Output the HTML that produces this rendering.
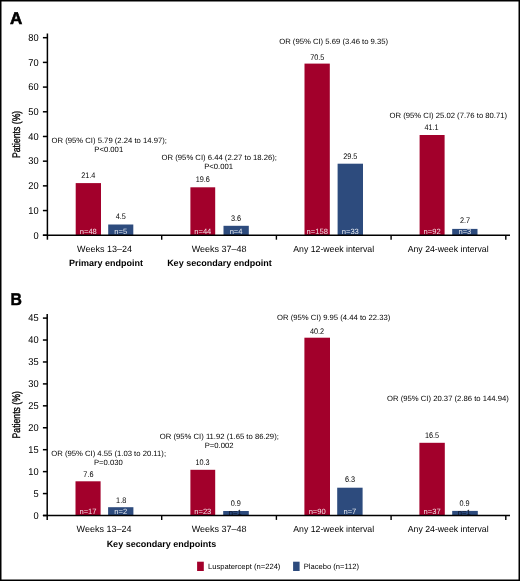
<!DOCTYPE html>
<html><head><meta charset="utf-8"><style>
html,body{margin:0;padding:0;background:#fff;}
svg{display:block;will-change:transform;text-rendering:geometricPrecision;}
text{font-family:"Liberation Sans", sans-serif;}
</style></head><body>
<svg width="520" height="581" viewBox="0 0 520 581">
<rect width="520" height="581" fill="#fff"/>
<text x="10.00" y="24.30" font-size="17" font-weight="700" fill="#000" text-anchor="start" stroke="#000" stroke-width="0.6">A</text>
<line x1="47.40" y1="33.50" x2="47.40" y2="239.70" stroke="#000" stroke-width="1.5"/>
<line x1="42.90" y1="235.25" x2="47.40" y2="235.25" stroke="#000" stroke-width="1.5"/>
<text class="t" transform="translate(38.6,238.50) scale(1,1.06)" font-size="9.3" fill="#000" text-anchor="end">0</text>
<line x1="42.90" y1="210.56" x2="47.40" y2="210.56" stroke="#000" stroke-width="1.5"/>
<text class="t" transform="translate(38.6,213.81) scale(1,1.06)" font-size="9.3" fill="#000" text-anchor="end">10</text>
<line x1="42.90" y1="185.86" x2="47.40" y2="185.86" stroke="#000" stroke-width="1.5"/>
<text class="t" transform="translate(38.6,189.11) scale(1,1.06)" font-size="9.3" fill="#000" text-anchor="end">20</text>
<line x1="42.90" y1="161.17" x2="47.40" y2="161.17" stroke="#000" stroke-width="1.5"/>
<text class="t" transform="translate(38.6,164.42) scale(1,1.06)" font-size="9.3" fill="#000" text-anchor="end">30</text>
<line x1="42.90" y1="136.47" x2="47.40" y2="136.47" stroke="#000" stroke-width="1.5"/>
<text class="t" transform="translate(38.6,139.72) scale(1,1.06)" font-size="9.3" fill="#000" text-anchor="end">40</text>
<line x1="42.90" y1="111.78" x2="47.40" y2="111.78" stroke="#000" stroke-width="1.5"/>
<text class="t" transform="translate(38.6,115.03) scale(1,1.06)" font-size="9.3" fill="#000" text-anchor="end">50</text>
<line x1="42.90" y1="87.09" x2="47.40" y2="87.09" stroke="#000" stroke-width="1.5"/>
<text class="t" transform="translate(38.6,90.34) scale(1,1.06)" font-size="9.3" fill="#000" text-anchor="end">60</text>
<line x1="42.90" y1="62.39" x2="47.40" y2="62.39" stroke="#000" stroke-width="1.5"/>
<text class="t" transform="translate(38.6,65.64) scale(1,1.06)" font-size="9.3" fill="#000" text-anchor="end">70</text>
<line x1="42.90" y1="37.70" x2="47.40" y2="37.70" stroke="#000" stroke-width="1.5"/>
<text class="t" transform="translate(38.6,40.95) scale(1,1.06)" font-size="9.3" fill="#000" text-anchor="end">80</text>
<rect x="75.70" y="183.10" width="25.30" height="51.90" fill="#a2002b"/>
<rect x="108.20" y="224.50" width="25.10" height="10.50" fill="#2d4b7d"/>
<rect x="190.40" y="187.30" width="24.80" height="47.70" fill="#a2002b"/>
<rect x="223.50" y="225.80" width="25.30" height="9.20" fill="#2d4b7d"/>
<rect x="304.50" y="63.60" width="25.30" height="171.40" fill="#a2002b"/>
<rect x="337.60" y="163.70" width="25.40" height="71.30" fill="#2d4b7d"/>
<rect x="419.60" y="135.00" width="25.00" height="100.00" fill="#a2002b"/>
<rect x="452.20" y="228.90" width="25.30" height="6.10" fill="#2d4b7d"/>
<text x="88.30" y="234.10" font-size="7.6" font-weight="400" fill="#fff" text-anchor="middle" fill-opacity="0.88">n=48</text>
<text x="120.80" y="234.10" font-size="7.6" font-weight="400" fill="#fff" text-anchor="middle" fill-opacity="0.88">n=5</text>
<text x="202.80" y="234.10" font-size="7.6" font-weight="400" fill="#fff" text-anchor="middle" fill-opacity="0.88">n=44</text>
<text x="236.10" y="234.10" font-size="7.6" font-weight="400" fill="#fff" text-anchor="middle" fill-opacity="0.88">n=4</text>
<text x="317.20" y="234.10" font-size="7.6" font-weight="400" fill="#fff" text-anchor="middle" fill-opacity="0.88">n=158</text>
<text x="350.30" y="234.10" font-size="7.6" font-weight="400" fill="#fff" text-anchor="middle" fill-opacity="0.88">n=33</text>
<text x="432.10" y="234.10" font-size="7.6" font-weight="400" fill="#fff" text-anchor="middle" fill-opacity="0.88">n=92</text>
<text x="464.90" y="234.10" font-size="7.6" font-weight="400" fill="#fff" text-anchor="middle" fill-opacity="0.88">n=3</text>
<line x1="42.90" y1="235.30" x2="510.00" y2="235.30" stroke="#000" stroke-width="1.5"/>
<line x1="161.70" y1="235.30" x2="161.70" y2="239.70" stroke="#000" stroke-width="1.4"/>
<line x1="276.40" y1="235.30" x2="276.40" y2="239.70" stroke="#000" stroke-width="1.4"/>
<line x1="391.10" y1="235.30" x2="391.10" y2="239.70" stroke="#000" stroke-width="1.4"/>
<line x1="505.80" y1="235.30" x2="505.80" y2="239.70" stroke="#000" stroke-width="1.4"/>
<text class="t" x="109.25" y="143.00" font-size="7.7" font-weight="400" fill="#000" text-anchor="middle">OR (95% CI) 5.79 (2.24 to 14.97);</text>
<text class="t" x="108.75" y="152.40" font-size="7.7" font-weight="400" fill="#000" text-anchor="middle">P&lt;0.001</text>
<text class="t" x="219.30" y="159.90" font-size="7.7" font-weight="400" fill="#000" text-anchor="middle">OR (95% CI) 6.44 (2.27 to 18.26);</text>
<text class="t" x="218.60" y="168.80" font-size="7.7" font-weight="400" fill="#000" text-anchor="middle">P&lt;0.001</text>
<text class="t" x="333.65" y="43.60" font-size="7.7" font-weight="400" fill="#000" text-anchor="middle">OR (95% CI) 5.69 (3.46 to 9.35)</text>
<text class="t" x="448.35" y="117.60" font-size="7.7" font-weight="400" fill="#000" text-anchor="middle">OR (95% CI) 25.02 (7.76 to 80.71)</text>
<text class="t" transform="translate(88.30,178.20) scale(1,1.12)" font-size="7.3" fill="#000" text-anchor="middle">21.4</text>
<text class="t" transform="translate(120.80,219.00) scale(1,1.12)" font-size="7.3" fill="#000" text-anchor="middle">4.5</text>
<text class="t" transform="translate(202.80,182.30) scale(1,1.12)" font-size="7.3" fill="#000" text-anchor="middle">19.6</text>
<text class="t" transform="translate(236.10,221.40) scale(1,1.12)" font-size="7.3" fill="#000" text-anchor="middle">3.6</text>
<text class="t" transform="translate(317.30,60.00) scale(1,1.12)" font-size="7.3" fill="#000" text-anchor="middle">70.5</text>
<text class="t" transform="translate(350.30,159.40) scale(1,1.12)" font-size="7.3" fill="#000" text-anchor="middle">29.5</text>
<text class="t" transform="translate(431.50,130.00) scale(1,1.12)" font-size="7.3" fill="#000" text-anchor="middle">41.1</text>
<text class="t" transform="translate(465.10,223.40) scale(1,1.12)" font-size="7.3" fill="#000" text-anchor="middle">2.7</text>
<text class="t" x="104.50" y="251.90" font-size="9.0" font-weight="400" fill="#000" text-anchor="middle">Weeks 13–24</text>
<text class="t" x="219.20" y="251.90" font-size="9.0" font-weight="400" fill="#000" text-anchor="middle">Weeks 37–48</text>
<text class="t" x="333.70" y="251.90" font-size="8.8" font-weight="400" fill="#000" text-anchor="middle" textLength="80.90" lengthAdjust="spacingAndGlyphs">Any 12-week interval</text>
<text class="t" x="448.15" y="251.90" font-size="8.8" font-weight="400" fill="#000" text-anchor="middle" textLength="80.90" lengthAdjust="spacingAndGlyphs">Any 24-week interval</text>
<text x="106.00" y="265.80" font-size="9.0" font-weight="700" fill="#000" text-anchor="middle">Primary endpoint</text>
<text x="219.40" y="265.80" font-size="9.0" font-weight="700" fill="#000" text-anchor="middle">Key secondary endpoint</text>
<text transform="translate(10.6,305.0) scale(0.93,1)" font-size="17" font-weight="700" fill="#000" stroke="#000" stroke-width="0.5">B</text>
<line x1="47.20" y1="314.00" x2="47.20" y2="519.90" stroke="#000" stroke-width="1.5"/>
<line x1="42.90" y1="515.50" x2="47.20" y2="515.50" stroke="#000" stroke-width="1.5"/>
<text class="t" transform="translate(38.6,518.75) scale(1,1.06)" font-size="9.3" fill="#000" text-anchor="end">0</text>
<line x1="42.90" y1="493.57" x2="47.20" y2="493.57" stroke="#000" stroke-width="1.5"/>
<text class="t" transform="translate(38.6,496.82) scale(1,1.06)" font-size="9.3" fill="#000" text-anchor="end">5</text>
<line x1="42.90" y1="471.63" x2="47.20" y2="471.63" stroke="#000" stroke-width="1.5"/>
<text class="t" transform="translate(38.6,474.88) scale(1,1.06)" font-size="9.3" fill="#000" text-anchor="end">10</text>
<line x1="42.90" y1="449.70" x2="47.20" y2="449.70" stroke="#000" stroke-width="1.5"/>
<text class="t" transform="translate(38.6,452.95) scale(1,1.06)" font-size="9.3" fill="#000" text-anchor="end">15</text>
<line x1="42.90" y1="427.77" x2="47.20" y2="427.77" stroke="#000" stroke-width="1.5"/>
<text class="t" transform="translate(38.6,431.02) scale(1,1.06)" font-size="9.3" fill="#000" text-anchor="end">20</text>
<line x1="42.90" y1="405.83" x2="47.20" y2="405.83" stroke="#000" stroke-width="1.5"/>
<text class="t" transform="translate(38.6,409.08) scale(1,1.06)" font-size="9.3" fill="#000" text-anchor="end">25</text>
<line x1="42.90" y1="383.90" x2="47.20" y2="383.90" stroke="#000" stroke-width="1.5"/>
<text class="t" transform="translate(38.6,387.15) scale(1,1.06)" font-size="9.3" fill="#000" text-anchor="end">30</text>
<line x1="42.90" y1="361.97" x2="47.20" y2="361.97" stroke="#000" stroke-width="1.5"/>
<text class="t" transform="translate(38.6,365.22) scale(1,1.06)" font-size="9.3" fill="#000" text-anchor="end">35</text>
<line x1="42.90" y1="340.03" x2="47.20" y2="340.03" stroke="#000" stroke-width="1.5"/>
<text class="t" transform="translate(38.6,343.28) scale(1,1.06)" font-size="9.3" fill="#000" text-anchor="end">40</text>
<line x1="42.90" y1="318.10" x2="47.20" y2="318.10" stroke="#000" stroke-width="1.5"/>
<text class="t" transform="translate(38.6,321.35) scale(1,1.06)" font-size="9.3" fill="#000" text-anchor="end">45</text>
<rect x="75.50" y="481.30" width="25.10" height="34.20" fill="#a2002b"/>
<rect x="108.10" y="507.20" width="25.30" height="8.30" fill="#2d4b7d"/>
<rect x="190.40" y="469.80" width="24.80" height="45.70" fill="#a2002b"/>
<rect x="223.20" y="511.00" width="25.60" height="4.50" fill="#2d4b7d"/>
<rect x="304.40" y="337.70" width="25.60" height="177.80" fill="#a2002b"/>
<rect x="337.20" y="487.70" width="25.40" height="27.80" fill="#2d4b7d"/>
<rect x="419.40" y="442.80" width="25.40" height="72.70" fill="#a2002b"/>
<rect x="452.20" y="510.90" width="25.60" height="4.60" fill="#2d4b7d"/>
<text x="88.00" y="514.30" font-size="7.6" font-weight="400" fill="#fff" text-anchor="middle" fill-opacity="0.88">n=17</text>
<text x="120.80" y="514.30" font-size="7.6" font-weight="400" fill="#fff" text-anchor="middle" fill-opacity="0.88">n=2</text>
<text x="202.80" y="514.30" font-size="7.6" font-weight="400" fill="#fff" text-anchor="middle" fill-opacity="0.88">n=23</text>
<text x="235.20" y="514.70" font-size="7.6" fill="#0a0f1e" text-anchor="middle">n=1</text>
<text x="317.20" y="514.30" font-size="7.6" font-weight="400" fill="#fff" text-anchor="middle" fill-opacity="0.88">n=90</text>
<text x="349.90" y="514.30" font-size="7.6" font-weight="400" fill="#fff" text-anchor="middle" fill-opacity="0.88">n=7</text>
<text x="432.10" y="514.30" font-size="7.6" font-weight="400" fill="#fff" text-anchor="middle" fill-opacity="0.88">n=37</text>
<text x="464.20" y="514.70" font-size="7.6" fill="#0a0f1e" text-anchor="middle">n=1</text>
<line x1="42.90" y1="515.50" x2="510.00" y2="515.50" stroke="#000" stroke-width="1.5"/>
<line x1="161.70" y1="515.50" x2="161.70" y2="519.90" stroke="#000" stroke-width="1.4"/>
<line x1="276.40" y1="515.50" x2="276.40" y2="519.90" stroke="#000" stroke-width="1.4"/>
<line x1="391.10" y1="515.50" x2="391.10" y2="519.90" stroke="#000" stroke-width="1.4"/>
<line x1="505.80" y1="515.50" x2="505.80" y2="519.90" stroke="#000" stroke-width="1.4"/>
<text class="t" x="108.65" y="456.10" font-size="7.7" font-weight="400" fill="#000" text-anchor="middle">OR (95% CI) 4.55 (1.03 to 20.11);</text>
<text class="t" x="108.40" y="465.30" font-size="7.7" font-weight="400" fill="#000" text-anchor="middle">P=0.030</text>
<text class="t" x="219.30" y="439.00" font-size="7.7" font-weight="400" fill="#000" text-anchor="middle">OR (95% CI) 11.92 (1.65 to 86.29);</text>
<text class="t" x="219.10" y="448.40" font-size="7.7" font-weight="400" fill="#000" text-anchor="middle">P=0.002</text>
<text class="t" x="333.65" y="320.30" font-size="7.7" font-weight="400" fill="#000" text-anchor="middle">OR (95% CI) 9.95 (4.44 to 22.33)</text>
<text class="t" x="447.95" y="400.70" font-size="7.7" font-weight="400" fill="#000" text-anchor="middle">OR (95% CI) 20.37 (2.86 to 144.94)</text>
<text class="t" transform="translate(88.40,477.10) scale(1,1.12)" font-size="7.3" fill="#000" text-anchor="middle">7.6</text>
<text class="t" transform="translate(121.20,502.70) scale(1,1.12)" font-size="7.3" fill="#000" text-anchor="middle">1.8</text>
<text class="t" transform="translate(202.50,464.80) scale(1,1.12)" font-size="7.3" fill="#000" text-anchor="middle">10.3</text>
<text class="t" transform="translate(235.80,506.00) scale(1,1.12)" font-size="7.3" fill="#000" text-anchor="middle">0.9</text>
<text class="t" transform="translate(317.00,334.10) scale(1,1.12)" font-size="7.3" fill="#000" text-anchor="middle">40.2</text>
<text class="t" transform="translate(350.10,482.40) scale(1,1.12)" font-size="7.3" fill="#000" text-anchor="middle">6.3</text>
<text class="t" transform="translate(432.00,437.70) scale(1,1.12)" font-size="7.3" fill="#000" text-anchor="middle">16.5</text>
<text class="t" transform="translate(464.50,505.80) scale(1,1.12)" font-size="7.3" fill="#000" text-anchor="middle">0.9</text>
<text class="t" x="104.00" y="532.40" font-size="9.0" font-weight="400" fill="#000" text-anchor="middle">Weeks 13–24</text>
<text class="t" x="219.10" y="532.40" font-size="9.0" font-weight="400" fill="#000" text-anchor="middle">Weeks 37–48</text>
<text class="t" x="333.70" y="532.40" font-size="8.8" font-weight="400" fill="#000" text-anchor="middle" textLength="80.90" lengthAdjust="spacingAndGlyphs">Any 12-week interval</text>
<text class="t" x="448.20" y="532.40" font-size="8.8" font-weight="400" fill="#000" text-anchor="middle" textLength="80.90" lengthAdjust="spacingAndGlyphs">Any 24-week interval</text>
<text x="161.40" y="546.80" font-size="9.0" font-weight="700" fill="#000" text-anchor="middle">Key secondary endpoints</text>
<text transform="translate(19.9,134.40) rotate(-90) scale(0.79,1)" x="0" y="0" font-size="11" fill="#000" stroke="#000" stroke-width="0.35" text-anchor="middle">Patients (%)</text>
<text transform="translate(19.9,414.80) rotate(-90) scale(0.79,1)" x="0" y="0" font-size="11" fill="#000" stroke="#000" stroke-width="0.35" text-anchor="middle">Patients (%)</text>
<rect x="197.10" y="561.70" width="6.70" height="9.30" fill="#a2002b"/>
<text class="t" x="208.00" y="568.80" font-size="7.6" font-weight="400" fill="#000" text-anchor="start">Luspatercept (n=224)</text>
<rect x="293.10" y="561.70" width="6.50" height="9.30" fill="#2d4b7d"/>
<text class="t" x="303.70" y="568.80" font-size="7.6" font-weight="400" fill="#000" text-anchor="start">Placebo (n=112)</text>
<rect x="0" y="0" width="520" height="581" fill="none" stroke="#000" stroke-width="3"/>
</svg>
</body></html>
